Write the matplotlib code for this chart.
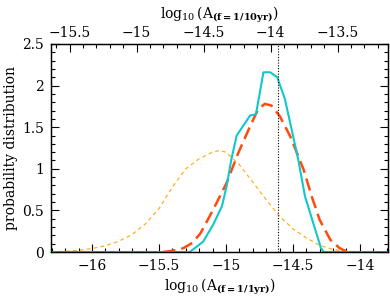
import matplotlib
matplotlib.use("Agg")
import matplotlib.pyplot as plt
from matplotlib.ticker import MultipleLocator, FuncFormatter

# ---- data ----
cyan_x = [-16.3, -15.27, -15.17, -15.095, -15.03, -14.995, -14.96, -14.92, -14.82, -14.776,
          -14.72, -14.67, -14.617, -14.56, -14.46, -14.41, -14.34, -14.29, -14.27, -13.79]
cyan_y = [0.0, 0.0, 0.125, 0.33, 0.55, 0.79, 1.11, 1.40, 1.64, 1.655,
          2.16, 2.16, 2.10, 1.84, 1.11, 0.67, 0.305, 0.045, 0.0, 0.0]

red_x = [-15.47, -15.40, -15.32, -15.25, -15.19, -15.095, -14.995, -14.908, -14.82, -14.76,
         -14.71, -14.66, -14.597, -14.52, -14.42, -14.36, -14.30, -14.22, -14.15, -14.09]
red_y = [0.0, 0.015, 0.045, 0.11, 0.225, 0.51, 0.83, 1.19, 1.51, 1.715,
         1.78, 1.76, 1.63, 1.39, 0.99, 0.67, 0.386, 0.145, 0.045, 0.0]

orange_x = [-16.3, -16.2, -16.1, -16.0, -15.9, -15.8, -15.7, -15.6, -15.5, -15.4,
            -15.3, -15.2, -15.1, -15.05, -15.0, -14.9, -14.8, -14.7, -14.6, -14.5,
            -14.4, -14.3, -14.2, -14.1, -14.0]
orange_y = [0.003, 0.008, 0.02, 0.042, 0.075, 0.13, 0.21, 0.34, 0.52, 0.78,
            1.0, 1.12, 1.2, 1.22, 1.2, 1.05, 0.84, 0.63, 0.43, 0.28,
            0.17, 0.08, 0.03, 0.008, 0.002]

vline_x = -14.61
offset_top = 2.0 / 3.0
xlim = (-16.306, -13.79)
ylim = (0.0, 2.5)

plt.rcParams['font.family'] = ['DejaVu Serif']
plt.rcParams['mathtext.fontset'] = 'dejavuserif'

fig = plt.figure(figsize=(3.9, 2.96), dpi=100)
ax = fig.add_axes([0.1308, 0.1486, 0.8641, 0.7028])

ax.plot(orange_x, orange_y, color='#ffb020', lw=0.9, dashes=(3, 2.6))
ax.plot(red_x, red_y, color='#ff4a10', lw=1.8, dashes=(5, 2.4))
ax.plot(cyan_x, cyan_y, color='#10c8cc', lw=1.5)
ax.axvline(vline_x, color='black', lw=0.8, ls=(0, (1, 1.5)))

def fmt(v, pos=None):
    return ('%g' % round(v, 3)).replace('-', '\u2212')

ax.set_xlim(*xlim)
ax.set_ylim(*ylim)
ax.xaxis.set_major_locator(MultipleLocator(0.5))
ax.xaxis.set_minor_locator(MultipleLocator(0.1))
ax.yaxis.set_major_locator(MultipleLocator(0.5))
ax.yaxis.set_minor_locator(MultipleLocator(0.1))
ax.xaxis.set_major_formatter(FuncFormatter(fmt))
ax.yaxis.set_major_formatter(FuncFormatter(fmt))
ax.tick_params(which='both', direction='in', top=False, right=True, labelsize=10)
ax.tick_params(which='major', length=6, width=0.8, pad=5)
ax.tick_params(which='minor', length=3, width=0.8)
ax.set_xlabel(r'$\log_{10}(\mathrm{A}_{\mathbf{(f=1/1yr)}})$', fontsize=10, labelpad=3)
ax.set_ylabel('probability distribution', fontsize=10, labelpad=3)

top = ax.twiny()
top.set_xlim(xlim[0] + offset_top, xlim[1] + offset_top)
top.xaxis.set_major_locator(MultipleLocator(0.5))
top.xaxis.set_minor_locator(MultipleLocator(0.1))
top.xaxis.set_major_formatter(FuncFormatter(fmt))
top.tick_params(which='both', direction='in', labelsize=10)
top.tick_params(which='major', length=6, width=0.8, pad=3)
top.tick_params(which='minor', length=3, width=0.8)
top.set_xlabel(r'$\log_{10}(\mathrm{A}_{\mathbf{(f=1/10yr)}})$', fontsize=10, labelpad=5)

for a in (ax, top):
    for sp in a.spines.values():
        sp.set_linewidth(0.9)

fig.savefig('out.png', dpi=100)
